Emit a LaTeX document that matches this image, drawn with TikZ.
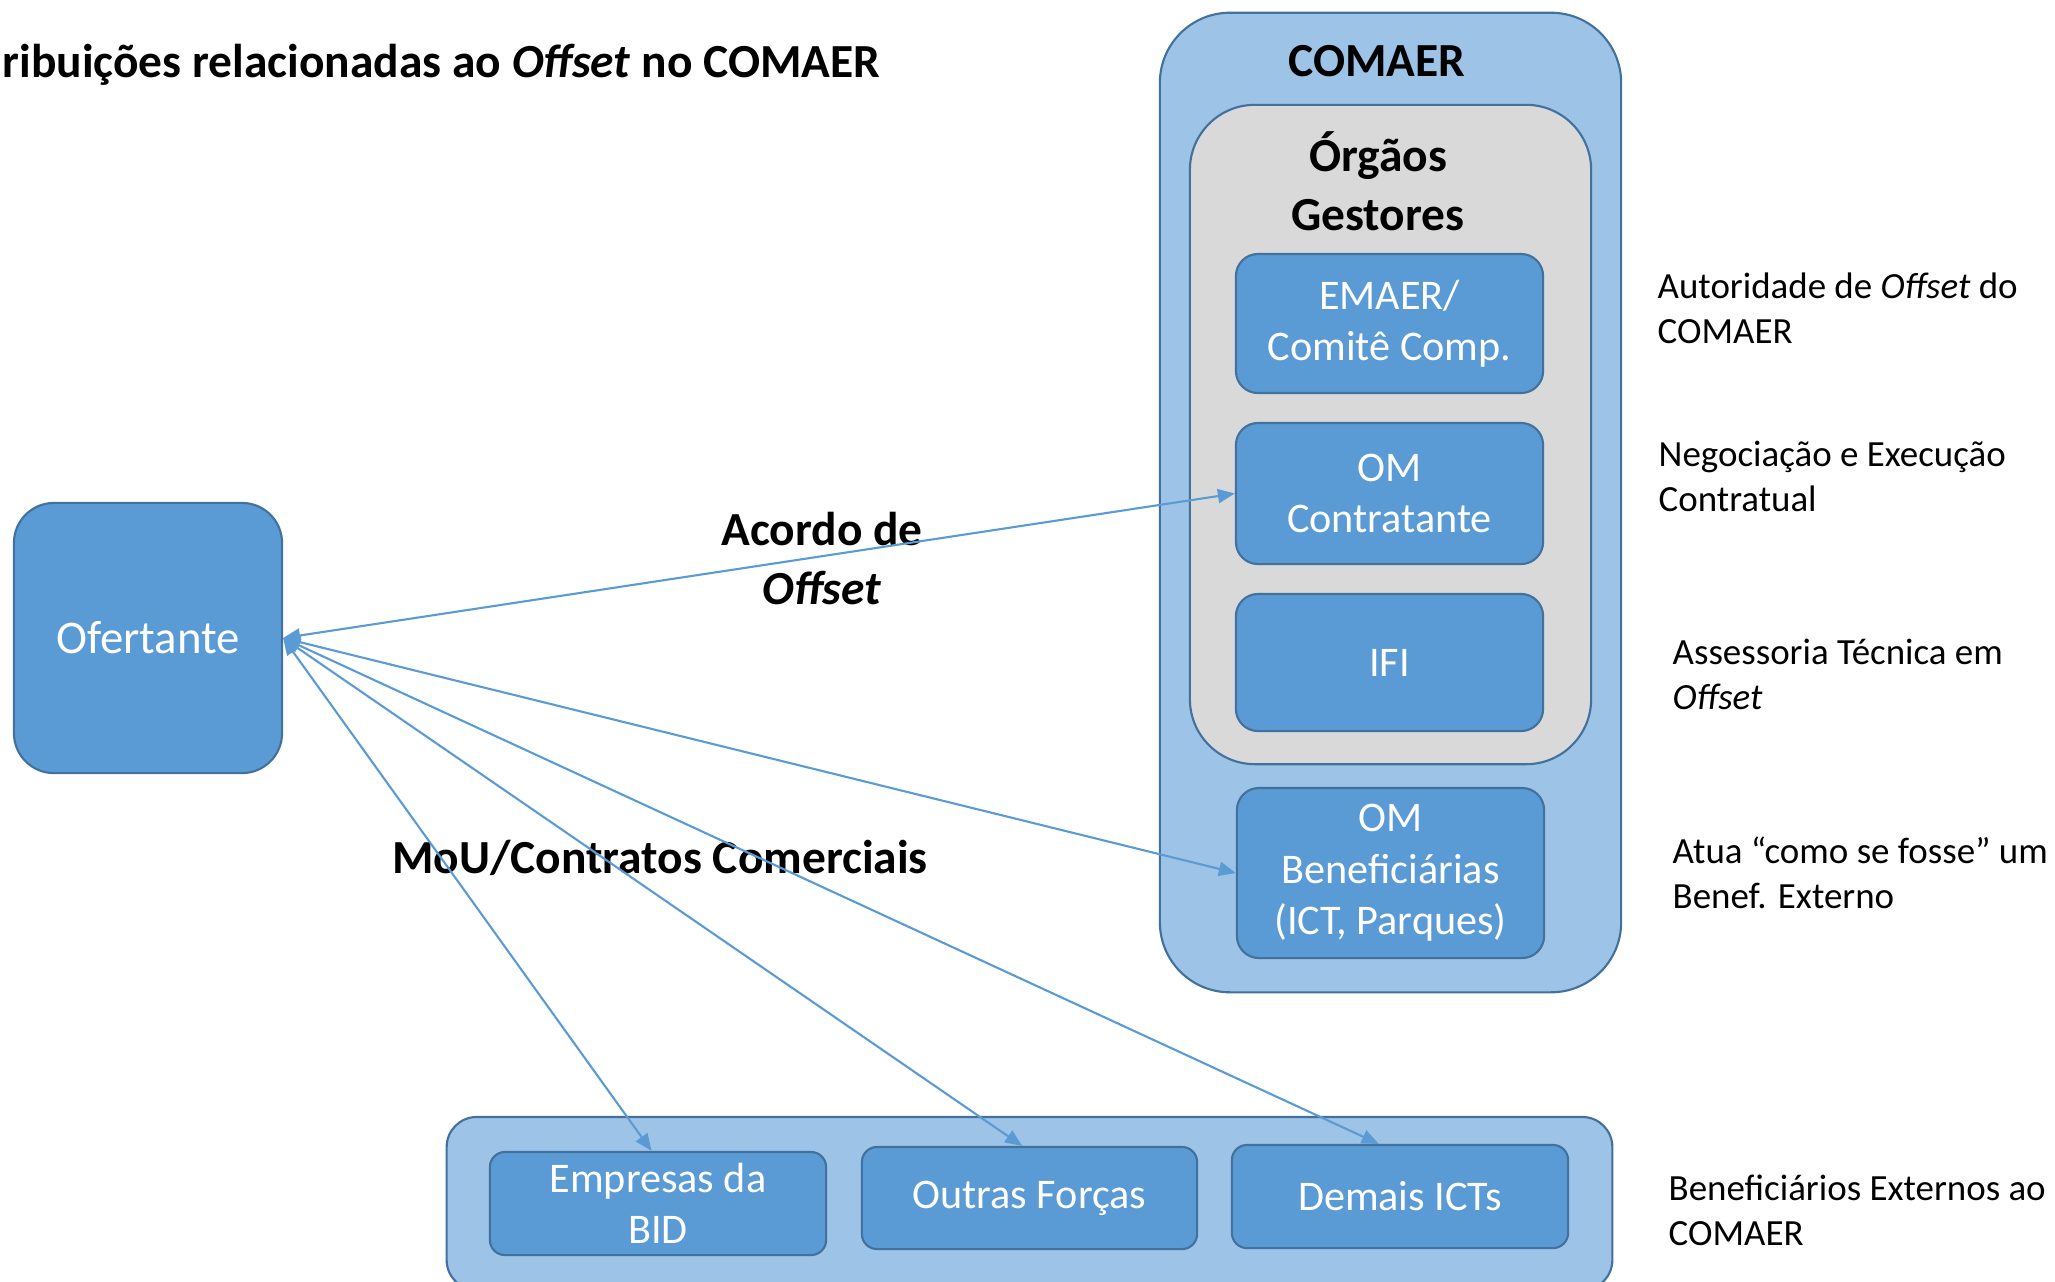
\documentclass[tikz,border=0pt]{standalone}
\usepackage{fontspec}
\setmainfont{Carlito}
\usetikzlibrary{arrows.meta}

\definecolor{boxblue}{HTML}{5B9BD5}
\definecolor{edgeblue}{HTML}{41719C}
\definecolor{paleblue}{HTML}{9DC3E6}
\definecolor{panelgray}{HTML}{D9D9D9}

\begin{document}
\begin{tikzpicture}[x=0.01cm, y=-0.01cm,
    orgbox/.style={draw=edgeblue, fill=boxblue, line width=0.6pt, rounded corners=0.22cm,
        inner sep=0pt, text=white, align=center, font=\fontsize{12}{14.6}\selectfont},
    group/.style={draw=edgeblue, line width=0.6pt, inner sep=0pt},
    heading/.style={inner sep=0pt, align=center, font=\fontsize{13.5}{16.5}\selectfont\bfseries},
    note/.style={anchor=base west, align=left, inner sep=0pt, font=\fontsize{10.5}{12.7}\selectfont},
    link/.style={draw=boxblue, line width=0.6pt, <->, >={Triangle[length=0.17cm,width=0.14cm]}}]
    \useasboundingbox (0,0) rectangle (2055,1281);

    \node[heading, anchor=base east] (title) at (881,77) {ribuições relacionadas ao \textit{Offset} no COMAER};

    % COMAER
    \node[group, fill=paleblue, rounded corners=0.7cm, minimum width=4.61cm, minimum height=9.79cm] (comaer) at (1390.5,502.5) {};
    \node[heading, anchor=base] (comaerlbl) at (1377,76) {COMAER};
    \node[group, fill=panelgray, rounded corners=0.65cm, minimum width=4.01cm, minimum height=6.59cm] (gestores) at (1390.5,434.5) {};
    \node[heading, anchor=base] (gestlbl) at (1378,230) {Órgãos\\Gestores};
    \node[orgbox, minimum width=3.07cm, minimum height=1.39cm] (emaer) at (1389.5,323.5) {EMAER/\\Comitê Comp.};
    \node[orgbox, minimum width=3.07cm, minimum height=1.41cm] (contr) at (1389.5,493.5) {OM\\Contratante};
    \node[orgbox, minimum width=3.07cm, minimum height=1.37cm] (ifi) at (1389.5,662.5) {IFI};
    \node[orgbox, minimum width=3.07cm, minimum height=1.70cm] (benef) at (1390.5,873) {OM\\Beneficiárias\\(ICT, Parques)};

    % externos
    \node[group, fill=paleblue, rounded corners=0.3cm, minimum width=11.65cm, minimum height=1.73cm] (extern) at (1029.5,1203.5) {};
    \node[orgbox, rounded corners=0.15cm, minimum width=3.36cm, minimum height=1.03cm] (empr) at (658,1203.5) {Empresas da\\BID};
    \node[orgbox, rounded corners=0.15cm, minimum width=3.35cm, minimum height=1.02cm] (outr) at (1029.5,1198) {Outras Forças};
    \node[orgbox, rounded corners=0.15cm, minimum width=3.36cm, minimum height=1.03cm] (dema) at (1400,1196.5) {Demais ICTs};

    \node[orgbox, rounded corners=0.4cm, minimum width=2.68cm, minimum height=2.70cm,
        font=\fontsize{13.3}{16}\selectfont] (ofert) at (148,638) {Ofertante};

    % notas
    \node[note] (n1) at (1657,343) {Autoridade de \textit{Offset} do\\COMAER};
    \node[note] (n2) at (1658,511) {Negociação e Execução\\Contratual};
    \node[note] (n3) at (1672,709) {Assessoria Técnica em\\\textit{Offset}};
    \node[note] (n4) at (1672,908) {Atua “como se fosse” um\\Benef. Externo};
    \node[note] (n5) at (1668,1245) {Beneficiários Externos ao\\COMAER};

    \node[heading, anchor=base] (acordo) at (822,604) {Acordo de\\\textit{Offset}};
    \node[heading, anchor=base] (mou) at (660,873) {MoU/Contratos Comerciais};

    \draw[link] (ofert.east) -- (contr.west);
    \draw[link] (ofert.east) -- (benef.west);
    \draw[link] (ofert.east) -- (empr.97);
    \draw[link] (ofert.east) -- (outr.98);
    \draw[link] (ofert.east) -- (dema.112);
\end{tikzpicture}
\end{document}
